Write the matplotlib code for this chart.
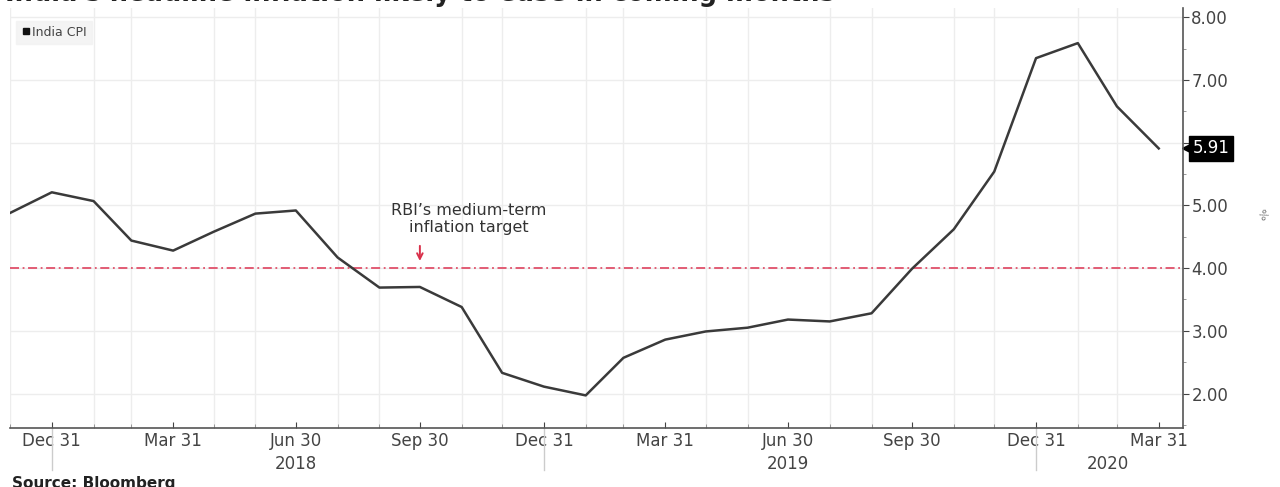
import matplotlib
matplotlib.use("Agg")
import matplotlib.pyplot as plt
import matplotlib.dates as mdates
import matplotlib.transforms as mtransforms
from matplotlib.lines import Line2D
import pandas as pd

# monthly India CPI (YoY %), plotted at month end
months = ["2017-11", "2017-12",
          "2018-01", "2018-02", "2018-03", "2018-04", "2018-05", "2018-06",
          "2018-07", "2018-08", "2018-09", "2018-10", "2018-11", "2018-12",
          "2019-01", "2019-02", "2019-03", "2019-04", "2019-05", "2019-06",
          "2019-07", "2019-08", "2019-09", "2019-10", "2019-11", "2019-12",
          "2020-01", "2020-02", "2020-03"]
cpi = [4.88, 5.21,
       5.07, 4.44, 4.28, 4.58, 4.87, 4.92,
       4.17, 3.69, 3.70, 3.38, 2.33, 2.11,
       1.97, 2.57, 2.86, 2.99, 3.05, 3.18,
       3.15, 3.28, 3.99, 4.62, 5.54, 7.35,
       7.59, 6.58, 5.91]
target = 4.0
years = ["2018", "2019", "2020"]
year_label_dates = ["2018-06-30", "2019-06-30", "2020-02-22"]
year_breaks = ["2017-12-31", "2018-12-31", "2019-12-31"]

title = "India's headline inflation likely to ease in coming months"
source = "Source: Bloomberg"

dates = pd.to_datetime(months) + pd.offsets.MonthEnd(0)

fig = plt.figure(figsize=(12.8, 4.87), dpi=100)
W, H = 1280, 487
ax = fig.add_axes([10 / W, 1 - 428 / H, (1183 - 10) / W, (428 - 8) / H])

ax.plot(dates, cpi, color="#3a3a3a", lw=1.8, label="India CPI", zorder=3)
ax.axhline(target, color="#e0506a", lw=1.3, ls=(0, (5, 2, 1, 2)), zorder=2)

ax.set_xlim(pd.Timestamp("2017-11-30"), pd.Timestamp("2020-04-18"))
ax.set_ylim(1.45, 8.15)

# axes styling
for s in ["left", "top"]:
    ax.spines[s].set_visible(False)
for s in ["bottom", "right"]:
    ax.spines[s].set_color("#555555")
    ax.spines[s].set_linewidth(1.2)

ax.yaxis.tick_right()
ax.set_yticks([2, 3, 4, 5, 6, 7, 8])
ax.set_yticklabels(["2.00", "3.00", "4.00", "5.00", "", "7.00", "8.00"])
ax.yaxis.set_minor_locator(matplotlib.ticker.MultipleLocator(0.5))
ax.tick_params(axis="y", which="major", direction="out", length=4, pad=2,
               labelsize=12, colors="#444444")
ax.tick_params(axis="y", which="minor", direction="out", length=2, color="#888888")

ax.xaxis.set_major_locator(mdates.MonthLocator(bymonth=[3, 6, 9, 12], bymonthday=-1))
ax.xaxis.set_minor_locator(mdates.MonthLocator(bymonthday=-1))
ax.xaxis.set_major_formatter(mdates.DateFormatter("%b %d"))
ax.tick_params(axis="x", which="major", direction="in", length=4, pad=3,
               labelsize=12, colors="#444444")
ax.tick_params(axis="x", which="minor", direction="in", length=3, color="#888888")

ax.grid(True, which="minor", axis="x", color="#ededed", lw=1)
ax.grid(True, which="major", axis="y", color="#ededed", lw=1)
ax.set_axisbelow(True)

# year labels and separators below the axis
trans = mtransforms.blended_transform_factory(ax.transData, ax.transAxes)
for yr, d in zip(years, year_label_dates):
    ax.text(pd.Timestamp(d), -0.064, yr, transform=trans, ha="center", va="top",
            fontsize=12, color="#444444")
for d in year_breaks:
    ax.plot([pd.Timestamp(d)] * 2, [0, -0.1], transform=trans, color="#cccccc",
            lw=1, clip_on=False)

# legend
handle = Line2D([], [], marker="s", color="#111111", ls="None", markersize=5)
leg = ax.legend([handle], ["India CPI"], loc="upper left", bbox_to_anchor=(0.0, 0.985),
                fontsize=9, frameon=True, handletextpad=0.1, borderpad=0.4,
                handlelength=0.8, fancybox=False)
leg.get_frame().set_facecolor("#f2f2f2")
leg.get_frame().set_edgecolor("#f2f2f2")
for t in leg.get_texts():
    t.set_color("#444444")

# annotation for RBI target
ax.annotate("", xy=(pd.Timestamp("2018-09-30"), target + 0.07),
            xytext=(pd.Timestamp("2018-09-30"), target + 0.4),
            arrowprops=dict(arrowstyle="->", color="#d9304a", lw=1.4))
ax.text(pd.Timestamp("2018-11-05"), 4.78, "RBI\u2019s medium-term\ninflation target",
        ha="center", va="center", fontsize=11.5, color="#333333", linespacing=1.15)

# last value tag
last = cpi[-1]
ytrans = mtransforms.blended_transform_factory(ax.transAxes, ax.transData)
ax.plot([1.003], [last], marker="<", color="black", markersize=7,
        transform=ytrans, clip_on=False)
ax.text(1.008, last, f"{last:.2f}", transform=ytrans,
        ha="left", va="center", fontsize=12, color="white",
        bbox=dict(boxstyle="square,pad=0.2", fc="black", ec="black"))

fig.text(1262 / W, 1 - 215 / H, "%", fontsize=8, color="#777777", rotation=-60,
         ha="center", va="center")

fig.text(5 / W, 1 - 1 / H, title, fontsize=18.5, fontweight="bold", color="#222222",
         va="baseline", ha="left")
fig.text(12 / W, 1 - 476 / H, source, fontsize=11, fontweight="bold", color="#222222",
         va="top", ha="left")

fig.savefig("out.png", dpi=100)
